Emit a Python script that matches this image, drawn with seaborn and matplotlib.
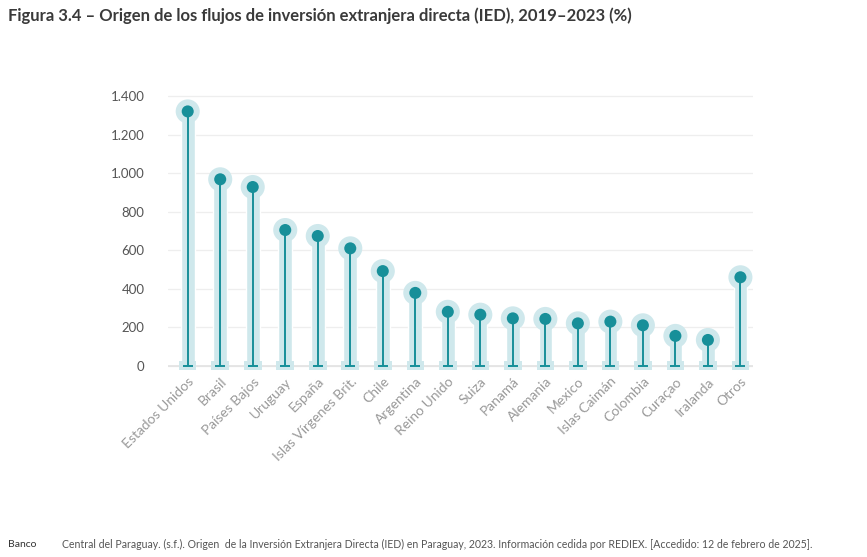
import matplotlib
matplotlib.use('Agg')
import matplotlib.pyplot as plt
import matplotlib.ticker as mticker
import seaborn as sns
import pandas as pd

paises = ['Estados Unidos', 'Brasil', 'Países Bajos', 'Uruguay', 'España',
          'Islas Vírgenes Brit.', 'Chile', 'Argentina', 'Reino Unido', 'Suiza',
          'Panamá', 'Alemania', 'Mexico', 'Islas Caimán', 'Colombia', 'Curaçao',
          'Iralanda', 'Otros']
valores = [1320, 968, 928, 705, 674, 610, 492, 379, 281, 266,
           247, 244, 221, 230, 211, 156, 135, 460]
yticks = [0, 200, 400, 600, 800, 1000, 1200, 1400]

df = pd.DataFrame({'pais': paises, 'valor': valores})
df['x'] = range(len(df))
df['cero'] = 0

sns.set_theme(style='white')
plt.rcParams['font.family'] = ['Lato', 'DejaVu Sans']

oscuro = '#178f99'
claro = '#cfe8ec'
# base rectangular (mas ancha que alta)
base = [(-1, -0.6), (1, -0.6), (1, 0.6), (-1, 0.6), (-1, -0.6)]

fig = plt.figure(figsize=(8.67, 5.57), dpi=100)
ax = fig.add_axes([0.194, 0.336, 0.675, 0.509])

# barras claras de fondo
sns.barplot(data=df, x='pais', y='valor', color=claro, width=0.42,
            saturation=1, ax=ax, zorder=2)
sns.scatterplot(data=df, x='x', y='cero', marker=base, s=160, color=claro,
                edgecolor='none', ax=ax, zorder=2)
sns.scatterplot(data=df, x='x', y='valor', s=300, color=claro,
                edgecolor='none', ax=ax, zorder=2)
# tallo oscuro
ax.vlines(df['x'], 0, df['valor'], color=oscuro, lw=1.4, zorder=3)
sns.scatterplot(data=df, x='x', y='cero', marker='_', s=60, color=oscuro,
                linewidth=1.4, ax=ax, zorder=3)
sns.scatterplot(data=df, x='x', y='valor', s=75, color=oscuro,
                edgecolor='none', ax=ax, zorder=4)

ax.set_xlim(-0.6, 17.4)
ax.set_ylim(-20, 1450)
ax.set_yticks(yticks)
ax.yaxis.set_major_formatter(mticker.FuncFormatter(lambda v, p: f'{int(v):,}'.replace(',', '.')))
ax.grid(axis='y', color='#eeeeee', lw=0.9, zorder=0)
ax.axhline(0, color='#e2e2e2', lw=1.2, zorder=1)
for s in ax.spines.values():
    s.set_visible(False)
ax.set_xlabel('')
ax.set_ylabel('')
ax.tick_params(axis='y', length=0, pad=17, labelsize=9.5, labelcolor='#555555')
ax.tick_params(axis='x', length=0, pad=4, labelsize=10, labelcolor='#999999')
ax.set_xticks(range(len(paises)))
ax.set_xticklabels(paises, rotation=45, ha='right', rotation_mode='anchor')

fig.text(0.009, 0.972, 'Figura 3.4 – Origen de los flujos de inversión extranjera directa (IED), 2019–2023 (%)',
         fontsize=12, fontweight='bold', color='#3a3a3a', va='center')
fig.text(0.009, 0.022, 'Banco', fontsize=7.5, color='#333333', va='center')
fig.text(0.071, 0.022, 'Central del Paraguay. (s.f.). Origen  de la Inversión Extranjera Directa (IED) en Paraguay, 2023. '
         'Información cedida por REDIEX. [Accedido: 12 de febrero de 2025].',
         fontsize=7.6, color='#555555', va='center')

plt.savefig('out.png', dpi=100)
plt.close()
